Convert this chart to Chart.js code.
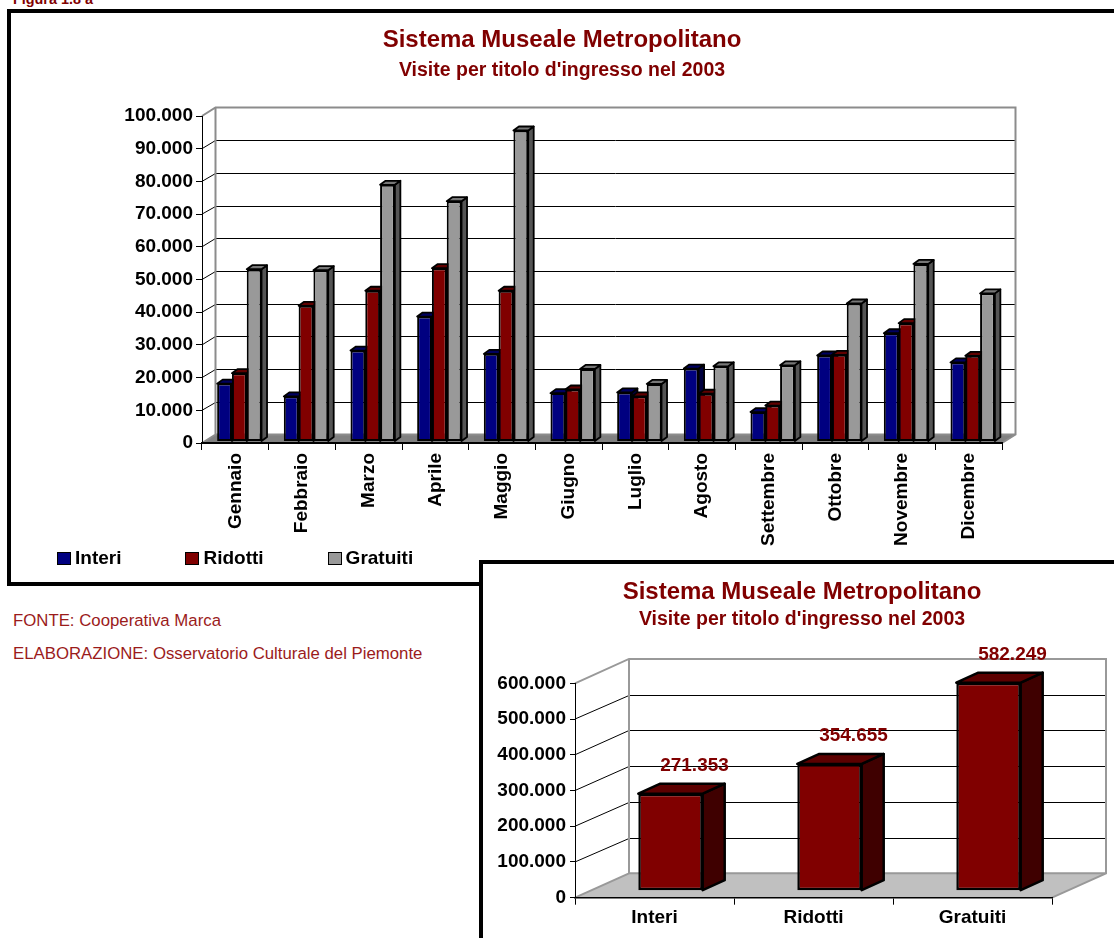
<!DOCTYPE html>
<html>
<head>
<meta charset="utf-8">
<script src="https://cdn.jsdelivr.net/npm/chart.js@4.4.0/dist/chart.umd.min.js"></script>
<style>
  html, body { margin: 0; padding: 0; background: #fff; overflow: hidden; width: 1114px; height: 938px; }
  body { position: relative; font-family: 'Liberation Sans', Arial, sans-serif; }
  .fig { position: absolute; left: 13px; top: -8px; font: bold 14.4px/1 'Liberation Sans', Arial, sans-serif; color: #800000; }
  .box1 { position: absolute; left: 7px; top: 9px; width: 1200px; height: 577px; border: 4px solid #000; box-sizing: border-box; }
  #c1 { position: absolute; left: 0; top: 0; }
  #legend { position: absolute; left: 57px; top: 547px; display: flex; gap: 64px; font: bold 19px/22px 'Liberation Sans', Arial, sans-serif; color: #000; }
  .item { display: flex; align-items: center; }
  .sw { display: inline-block; width: 12px; height: 11px; border: 1px solid #000; margin-right: 4px; }
  .note { position: absolute; left: 13px; font: 16.8px/1 'Liberation Sans', Arial, sans-serif; color: #9b1b1b; white-space: nowrap; }
  .box2 { position: absolute; left: 479px; top: 560px; width: 700px; height: 500px; border: 4px solid #000; box-sizing: border-box; background: #fff; }
  #c2 { position: absolute; left: 483px; top: 564px; }
</style>
</head>
<body>
<div class="fig">Figura 1.8 a</div>
<div class="box1"></div>
<canvas id="c1" width="1124" height="581"></canvas>
<div id="legend"></div>
<div class="note" style="top:613px">FONTE: Cooperativa Marca</div>
<div class="note" style="top:646px">ELABORAZIONE: Osservatorio Culturale del Piemonte</div>
<div class="box2"></div>
<canvas id="c2" width="638" height="374"></canvas>
<script>
// dati
const months = ['Gennaio', 'Febbraio', 'Marzo', 'Aprile', 'Maggio', 'Giugno',
  'Luglio', 'Agosto', 'Settembre', 'Ottobre', 'Novembre', 'Dicembre'];
const interi = [17700, 13800, 27800, 38200, 26800, 14800, 15000, 22300, 9000, 26300, 33100, 24200];
const ridotti = [20900, 41500, 46100, 53000, 46100, 15900, 13800, 14600, 11000, 26500, 36200, 26200];
const gratuiti = [52700, 52400, 78500, 73500, 95100, 22200, 17600, 23000, 23300, 42200, 54300, 45300];
const seriesNames = ['Interi', 'Ridotti', 'Gratuiti'];
const totals = [271353, 354655, 582249];

const title = 'Sistema Museale Metropolitano';
const subtitle = "Visite per titolo d'ingresso nel 2003";

const frontColors = ['#000080', '#800000', '#999999'];
const sideColors = ['#00003f', '#400000', '#555555'];
const topColors = ['#000060', '#600000', '#777777'];
const darkRed = '#800000';

Chart.defaults.font.family = "'Liberation Sans', Arial, sans-serif";
Chart.defaults.color = '#000';

const fmt = v => String(v).replace(/\B(?=(\d{3})+(?!\d))/g, '.');

function poly(ctx, pts) {
  ctx.beginPath();
  pts.forEach((p, i) => i ? ctx.lineTo(p[0], p[1]) : ctx.moveTo(p[0], p[1]));
  ctx.closePath();
  ctx.fill();
  ctx.stroke();
}

// finto 3D: pareti, pavimento e facce laterali delle barre
const box3d = {
  id: 'box3d',
  beforeDraw(chart, args, o) {
    const { ctx, chartArea: a, scales: { y } } = chart;
    const dx = o.wall[0], dy = o.wall[1];
    ctx.save();
    ctx.fillStyle = o.floor;
    ctx.beginPath();
    ctx.moveTo(a.left, a.bottom);
    ctx.lineTo(a.right, a.bottom);
    ctx.lineTo(a.right + dx, a.bottom + dy);
    ctx.lineTo(a.left + dx, a.bottom + dy);
    ctx.closePath();
    ctx.fill();

    ctx.strokeStyle = o.grid;
    ctx.lineWidth = 1;
    y.ticks.forEach(t => {
      if (t.value === y.min || t.value === y.max) return;
      const py = y.getPixelForValue(t.value);
      const back = Math.round(py + dy) + 0.5;
      ctx.beginPath();
      ctx.moveTo(a.left, py);
      ctx.lineTo(a.left + dx, back);
      ctx.lineTo(a.right + dx, back);
      ctx.stroke();
    });

    ctx.strokeStyle = o.edge;
    ctx.lineWidth = 2;
    ctx.beginPath();
    ctx.moveTo(a.left, a.top);
    ctx.lineTo(a.left + dx, a.top + dy);
    ctx.lineTo(a.right + dx, a.top + dy);
    ctx.lineTo(a.right + dx, a.bottom + dy);
    ctx.lineTo(a.right, a.bottom);
    ctx.moveTo(a.left + dx, a.top + dy);
    ctx.lineTo(a.left + dx, a.bottom + dy);
    ctx.lineTo(a.left, a.bottom);
    ctx.moveTo(a.left + dx, a.bottom + dy);
    ctx.lineTo(a.right + dx, a.bottom + dy);
    ctx.stroke();
    ctx.restore();
  },
  beforeDatasetsDraw(chart, args, o) {
    const { ctx } = chart;
    const [sx, sy] = o.shift, [px, py] = o.depth;
    ctx.save();
    ctx.lineWidth = o.line;
    ctx.strokeStyle = '#000';
    ctx.lineJoin = 'round';
    chart.data.datasets.forEach((ds, i) => {
      chart.getDatasetMeta(i).data.forEach(bar => {
        const { x, y, base, width } = bar.getProps(['x', 'y', 'base', 'width'], true);
        const l = x - width / 2 + sx, r = x + width / 2 + sx, t = y + sy, b = base + sy;
        ctx.fillStyle = ds.sideColor;
        poly(ctx, [[r, t], [r + px, t + py], [r + px, b + py], [r, b]]);
        ctx.fillStyle = ds.topColor;
        poly(ctx, [[l, t], [r, t], [r + px, t + py], [l + px, t + py]]);
      });
    });
    ctx.restore();
    ctx.save();
    ctx.translate(sx, sy);
  },
  afterDatasetsDraw(chart, args, o) {
    const { ctx } = chart;
    ctx.restore();
    if (!o.labels) return;
    ctx.save();
    ctx.font = "bold 19px 'Liberation Sans', Arial, sans-serif";
    ctx.fillStyle = darkRed;
    ctx.textAlign = 'center';
    ctx.textBaseline = 'middle';
    chart.getDatasetMeta(0).data.forEach((bar, j) => {
      ctx.fillText(fmt(chart.data.datasets[0].data[j]), bar.x + o.labelOffset[0], bar.y + o.labelOffset[1]);
    });
    ctx.restore();
  }
};

function titles(top, gap, bottom) {
  return {
    title: { display: true, text: title, color: darkRed, font: { size: 24, weight: 'bold' }, padding: { top: top, bottom: 0 } },
    subtitle: { display: true, text: subtitle, color: darkRed, font: { size: 19.5, weight: 'bold' }, padding: { top: gap, bottom: bottom } }
  };
}

const tickFont = { size: 19, weight: 'bold' };

// grafico mensile
new Chart(document.getElementById('c1'), {
  type: 'bar',
  data: {
    labels: months,
    datasets: [interi, ridotti, gratuiti].map((d, i) => ({
      label: seriesNames[i],
      data: d,
      backgroundColor: frontColors[i],
      sideColor: sideColors[i],
      topColor: topColors[i],
      borderColor: '#000',
      borderWidth: 2,
      borderSkipped: false,
      categoryPercentage: 0.666,
      barPercentage: 1,
      clip: false
    }))
  },
  options: {
    responsive: false,
    animation: false,
    layout: { padding: 0 },
    plugins: Object.assign({
      legend: { display: false },
      tooltip: { enabled: false },
      box3d: { wall: [13.5, -8.5], shift: [4, -1.5], depth: [5.5, -4], line: 1.8, floor: '#808080', grid: '#000', edge: '#8c8c8c' }
    }, titles(26, 4, 33.8)),
    scales: {
      x: {
        grid: { offset: true, drawOnChartArea: false, tickLength: 7, color: '#000' },
        border: { color: '#000', width: 2 },
        ticks: { minRotation: 90, maxRotation: 90, autoSkip: false, font: tickFont, padding: 3 },
        afterFit: s => { s.height = 138; }
      },
      y: {
        min: 0, max: 100000,
        grid: { drawOnChartArea: false, tickLength: 6, color: '#000' },
        border: { color: '#000' },
        ticks: { stepSize: 10000, font: tickFont, padding: 3, callback: v => fmt(v) },
        afterFit: s => { s.width = 202; }
      },
      y2: {
        position: 'right',
        grid: { display: false },
        border: { display: false },
        ticks: { display: false },
        afterFit: s => { s.width = 122; }
      }
    }
  },
  plugins: [box3d]
});

const legend = document.getElementById('legend');
seriesNames.forEach((name, i) => {
  const it = document.createElement('div');
  it.className = 'item';
  const sw = document.createElement('span');
  sw.className = 'sw';
  sw.style.background = frontColors[i];
  it.appendChild(sw);
  it.appendChild(document.createTextNode(name));
  legend.appendChild(it);
});

// totali annui
new Chart(document.getElementById('c2'), {
  type: 'bar',
  data: {
    labels: seriesNames,
    datasets: [{
      label: 'Totale',
      data: totals,
      backgroundColor: '#800000',
      sideColor: '#3f0000',
      topColor: '#5c0000',
      borderColor: '#000',
      borderWidth: 2.5,
      borderSkipped: false,
      categoryPercentage: 0.405,
      barPercentage: 1,
      clip: false
    }]
  },
  options: {
    responsive: false,
    animation: false,
    layout: { padding: 0 },
    plugins: Object.assign({
      legend: { display: false },
      tooltip: { enabled: false },
      box3d: { wall: [54, -24.4], shift: [16, -7], depth: [22, -10], line: 2.5, floor: '#c0c0c0', grid: '#000', edge: '#999', labels: true, labelOffset: [40, -35] }
    }, titles(14.1, 1.4, 51.6)),
    scales: {
      x: {
        grid: { offset: true, drawOnChartArea: false, tickLength: 7, color: '#000' },
        border: { color: '#000', width: 1.5 },
        ticks: { font: tickFont, padding: 2 },
        afterFit: s => { s.height = 40.3; }
      },
      y: {
        min: 0, max: 600000,
        grid: { drawOnChartArea: false, tickLength: 5, color: '#000' },
        border: { color: '#000' },
        ticks: { stepSize: 100000, font: tickFont, padding: 4, callback: v => fmt(v) },
        afterFit: s => { s.width = 92; }
      },
      y2: {
        position: 'right',
        grid: { display: false },
        border: { display: false },
        ticks: { display: false },
        afterFit: s => { s.width = 69; }
      }
    }
  },
  plugins: [box3d]
});
</script>
</body>
</html>
